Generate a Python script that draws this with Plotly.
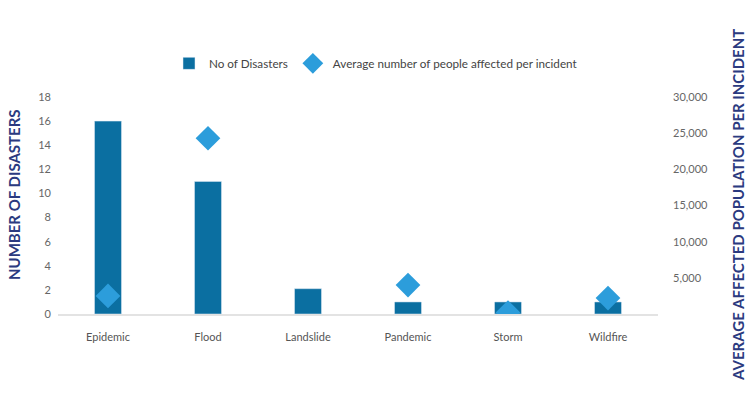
import plotly.graph_objects as go

categories = ["Epidemic", "Flood", "Landslide", "Pandemic", "Storm", "Wildfire"]
num_disasters = [16, 11, 2.1, 1, 1, 1]
avg_affected = [2500, 24300, None, 4000, 200, 2200]
right_ticks = [5000, 10000, 15000, 20000, 25000, 30000]

W, H = 756, 414
ml, mr, mt, mb = 58, 98, 97, 100

fig = go.Figure()
fig.add_trace(go.Bar(
    x=categories, y=num_disasters, name="No of Disasters",
    marker=dict(color="#0b6fa1"), width=0.27, yaxis="y"))
fig.add_trace(go.Scatter(
    x=categories, y=avg_affected, name="Average number of people affected per incident",
    mode="markers", marker=dict(symbol="diamond", size=19, color="#2c9ddb"),
    yaxis="y2"))

title_font = dict(family="Lato", size=15, color="#2b3a80")
fig.update_layout(
    width=W, height=H,
    margin=dict(l=ml, r=mr, t=mt, b=mb),
    paper_bgcolor="white", plot_bgcolor="white",
    font=dict(family="Lato", size=11, color="#555555"),
    showlegend=True,
    legend=dict(orientation="h", x=0.53, xanchor="center", y=1.155, yanchor="middle",
                font=dict(size=11.7, color="#444444"), itemwidth=30),
    xaxis=dict(showgrid=False, showline=True, linecolor="#e3e3e3", linewidth=2,
               ticks="", tickfont=dict(size=11, color="#555555"),
               ticklabelstandoff=12, range=[-0.5, 5.5]),
    yaxis=dict(range=[0, 18], dtick=2, showgrid=False, zeroline=False,
               ticks="", tickfont=dict(size=11, color="#666666"), ticklabelstandoff=6),
    yaxis2=dict(range=[0, 30000], overlaying="y", side="right", showgrid=False,
                zeroline=False, tickvals=right_ticks, tickformat=",",
                tickfont=dict(size=11, color="#666666"), ticklabelstandoff=14),
    bargap=0.7,
)
fig.add_annotation(text="<b>NUMBER OF DISASTERS</b>", textangle=-90,
                   xref="paper", yref="paper", x=(14 - ml) / (W - ml - mr), y=(H - mb - 195) / (H - mt - mb),
                   xanchor="center", yanchor="middle", showarrow=False, font=title_font)
fig.add_annotation(text="<b>AVERAGE AFFECTED POPULATION PER INCIDENT</b>", textangle=-90,
                   xref="paper", yref="paper", x=(738 - ml) / (W - ml - mr), y=(H - mb - 205) / (H - mt - mb),
                   xanchor="center", yanchor="middle", showarrow=False, font=title_font)

fig.write_html("out.html")
